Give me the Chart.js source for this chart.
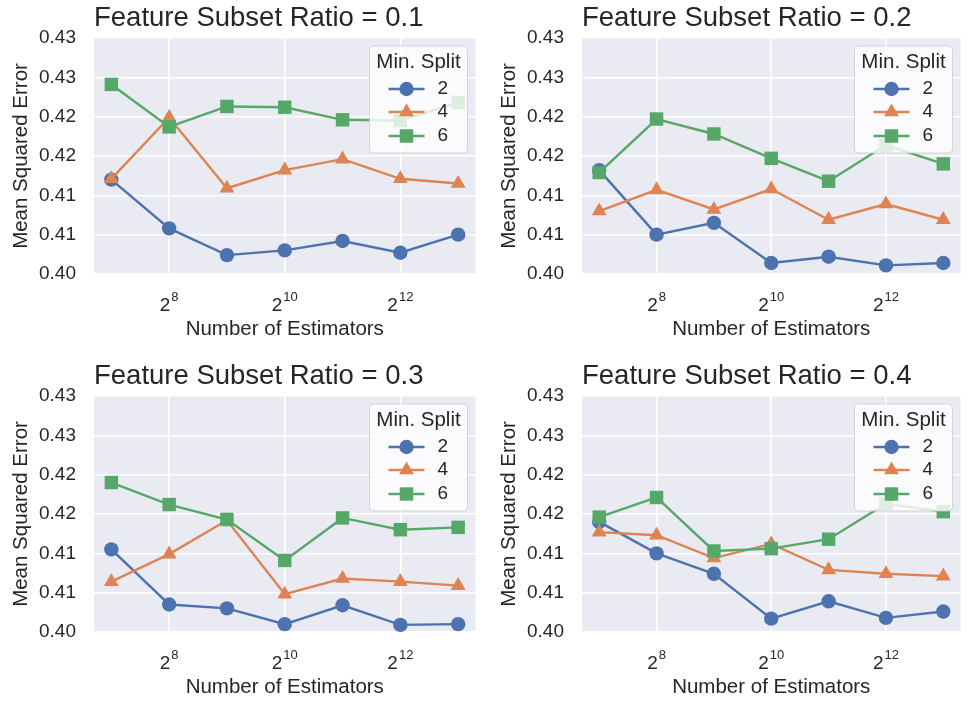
<!DOCTYPE html>
<html>
<head>
<meta charset="utf-8">
<script src="https://cdn.jsdelivr.net/npm/chart.js@4"></script>
<style>
  html, body { margin: 0; padding: 0; background: #ffffff; width: 970px; height: 702px; overflow: hidden; }
  .panel { position: absolute; }
</style>
</head>
<body>
<div class="panel" style="left:0px;top:0px"><canvas id="c0" width="485" height="350"></canvas></div>
<div class="panel" style="left:488px;top:0px"><canvas id="c1" width="482" height="350"></canvas></div>
<div class="panel" style="left:0px;top:358px"><canvas id="c2" width="485" height="350"></canvas></div>
<div class="panel" style="left:488px;top:358px"><canvas id="c3" width="482" height="350"></canvas></div>
<script>
// ---------------- data ----------------
const nEstimators = [128, 256, 512, 1024, 2048, 4096, 8192];
const minSplits = ['2', '4', '6'];
const subsetRatios = ['0.1', '0.2', '0.3', '0.4'];
const xTickValues = [256, 1024, 4096];
const xTickBase = '2';
const yTickValues = [0.400, 0.405, 0.410, 0.415, 0.420, 0.425, 0.430];
const yTickLabels = ['0.40', '0.41', '0.41', '0.42', '0.42', '0.43', '0.43'];
const titlePrefix = 'Feature Subset Ratio = ';
const xAxisLabel = 'Number of Estimators';
const yAxisLabel = 'Mean Squared Error';
const legendTitle = 'Min. Split';

const ratio01Split2 = [0.4120, 0.4058, 0.4024, 0.4030, 0.4042, 0.4027, 0.4050];
const ratio01Split4 = [0.4121, 0.4199, 0.4109, 0.4132, 0.4146, 0.4121, 0.4115];
const ratio01Split6 = [0.4241, 0.4187, 0.4213, 0.4212, 0.4196, 0.4195, 0.4218];

const ratio02Split2 = [0.4132, 0.4050, 0.4065, 0.4014, 0.4022, 0.4011, 0.4014];
const ratio02Split4 = [0.4080, 0.4107, 0.4082, 0.4108, 0.4069, 0.4089, 0.4069];
const ratio02Split6 = [0.4129, 0.4197, 0.4178, 0.4147, 0.4118, 0.4164, 0.4140];

const ratio03Split2 = [0.4105, 0.4035, 0.4030, 0.4010, 0.4034, 0.4009, 0.4010];
const ratio03Split4 = [0.4064, 0.4099, 0.4142, 0.4048, 0.4068, 0.4064, 0.4059];
const ratio03Split6 = [0.4190, 0.4162, 0.4143, 0.4091, 0.4145, 0.4130, 0.4133];

const ratio04Split2 = [0.4140, 0.4100, 0.4074, 0.4017, 0.4039, 0.4018, 0.4026];
const ratio04Split4 = [0.4127, 0.4123, 0.4094, 0.4112, 0.4079, 0.4074, 0.4071];
const ratio04Split6 = [0.4146, 0.4171, 0.4103, 0.4106, 0.4118, 0.4163, 0.4153];

const panelSeries = [
  [ratio01Split2, ratio01Split4, ratio01Split6],
  [ratio02Split2, ratio02Split4, ratio02Split6],
  [ratio03Split2, ratio03Split4, ratio03Split6],
  [ratio04Split2, ratio04Split4, ratio04Split6]
];

// ---------------- styles ----------------
const FONT = "'Liberation Sans', Arial, Helvetica, sans-serif";
const TEXT = '#262626';
const BG = '#EAEAF2';
const seriesColors = ['#4C72B0', '#DD8452', '#55A868'];
const seriesStyles = ['circle', 'triangle', 'rect'];
const seriesRadius = [7.2, 8.6, 9.5];

const bgPlugin = {
  id: 'plotBg',
  beforeDraw(chart) {
    const {ctx, chartArea: a} = chart;
    ctx.save();
    ctx.fillStyle = BG;
    ctx.fillRect(a.left, a.top, a.right - a.left, a.bottom - a.top);
    ctx.restore();
  }
};

// x tick labels as base with raised exponent (2^n), positioned by the x scale
const powTickPlugin = {
  id: 'powTicks',
  afterDraw(chart) {
    const {ctx, chartArea: a} = chart;
    const s = chart.scales.x;
    const baseY = a.bottom + 37;
    ctx.save();
    ctx.fillStyle = TEXT;
    ctx.textAlign = 'left';
    ctx.textBaseline = 'alphabetic';
    s.ticks.forEach(t => {
      const e = String(Math.round(Math.log(t.value) / Math.log(2)));
      ctx.font = '19px ' + FONT;
      const bw = ctx.measureText(xTickBase).width;
      ctx.font = '13px ' + FONT;
      const ew = ctx.measureText(e).width;
      const total = bw + 1 + ew;
      const x = s.getPixelForValue(t.value) - total / 2;
      ctx.font = '19px ' + FONT;
      ctx.fillText(xTickBase, x, baseY);
      ctx.font = '13px ' + FONT;
      ctx.fillText(e, x + bw + 1, baseY - 10.5);
    });
    ctx.restore();
  }
};

const legendPlugin = {
  id: 'mplLegend',
  afterDatasetsDraw(chart) {
    const {ctx, chartArea: a} = chart;
    const w = 98, h = 107;
    const x0 = a.right - 8 - w, y0 = a.top + 8;
    ctx.save();
    ctx.beginPath();
    if (ctx.roundRect) ctx.roundRect(x0, y0, w, h, 4); else ctx.rect(x0, y0, w, h);
    ctx.fillStyle = 'rgba(255,255,255,0.8)';
    ctx.fill();
    ctx.lineWidth = 1;
    ctx.strokeStyle = 'rgba(204,204,204,0.8)';
    ctx.stroke();
    ctx.fillStyle = TEXT;
    ctx.font = '20.5px ' + FONT;
    ctx.textAlign = 'center';
    ctx.textBaseline = 'middle';
    ctx.fillText(legendTitle, x0 + w / 2, y0 + 16);
    const rows = [43, 66, 90];
    chart.data.datasets.forEach((ds, i) => {
      const ry = y0 + rows[i];
      ctx.strokeStyle = ds.borderColor;
      ctx.lineWidth = ds.borderWidth;
      ctx.beginPath();
      ctx.moveTo(x0 + 19, ry);
      ctx.lineTo(x0 + 55, ry);
      ctx.stroke();
      ctx.fillStyle = ds.pointBackgroundColor;
      Chart.helpers.drawPoint(ctx, {pointStyle: ds.pointStyle, radius: ds.pointRadius, rotation: 0, borderWidth: 0}, x0 + 37, ry);
      ctx.fillStyle = TEXT;
      ctx.font = '19px ' + FONT;
      ctx.textAlign = 'left';
      ctx.fillText(ds.label, x0 + 68, ry);
    });
    ctx.restore();
  }
};

function makePanel(idx) {
  const col = idx % 2;
  const canvas = document.getElementById('c' + idx);
  const datasets = minSplits.map((s, k) => ({
    label: s,
    data: nEstimators.map((n, i) => ({x: n, y: panelSeries[idx][k][i]})),
    borderColor: seriesColors[k],
    backgroundColor: seriesColors[k],
    pointBackgroundColor: seriesColors[k],
    pointBorderColor: seriesColors[k],
    pointBorderWidth: 0,
    pointStyle: seriesStyles[k],
    pointRadius: seriesRadius[k],
    pointHoverRadius: seriesRadius[k],
    borderWidth: 2.4,
    tension: 0,
    fill: false,
    clip: false,
    order: 2 - k
  }));
  return new Chart(canvas, {
    type: 'line',
    data: {datasets},
    plugins: [bgPlugin, legendPlugin, powTickPlugin],
    options: {
      responsive: false,
      devicePixelRatio: 1,
      animation: false,
      layout: {padding: {left: 0, right: col === 0 ? 7 : 5, top: 0, bottom: 0}},
      plugins: {
        legend: {display: false},
        tooltip: {enabled: false},
        title: {
          display: true,
          text: titlePrefix + subsetRatios[idx],
          align: 'start',
          fullSize: false,
          color: TEXT,
          font: {family: FONT, size: 27.5, weight: 'normal'},
          padding: {top: 1.5, bottom: 3.5}
        }
      },
      scales: {
        x: {
          type: 'logarithmic',
          min: Math.pow(2, 6.7),
          max: Math.pow(2, 13.3),
          afterBuildTicks(scale) { scale.ticks = xTickValues.map(v => ({value: v})); },
          afterFit(scale) { scale.height = 76; },
          ticks: {display: false, autoSkip: false, maxRotation: 0},
          grid: {color: '#ffffff', lineWidth: 1.6, drawTicks: false},
          border: {display: false},
          title: {
            display: true,
            text: xAxisLabel,
            color: TEXT,
            font: {family: FONT, size: 20.5},
            padding: {top: 0, bottom: 8.5}
          }
        },
        y: {
          type: 'linear',
          min: yTickValues[0],
          max: yTickValues[yTickValues.length - 1],
          afterBuildTicks(scale) { scale.ticks = yTickValues.map(v => ({value: v})); },
          afterFit(scale) { scale.width = 94; },
          ticks: {
            padding: 18,
            color: TEXT,
            font: {family: FONT, size: 19},
            callback: (v, i) => yTickLabels[i]
          },
          grid: {color: '#ffffff', lineWidth: 1.6, drawTicks: false},
          border: {display: false},
          title: {
            display: true,
            text: yAxisLabel,
            color: TEXT,
            font: {family: FONT, size: 20.5},
            padding: {top: 9, bottom: 0}
          }
        }
      }
    }
  });
}
[0, 1, 2, 3].forEach(makePanel);
</script>
</body>
</html>
